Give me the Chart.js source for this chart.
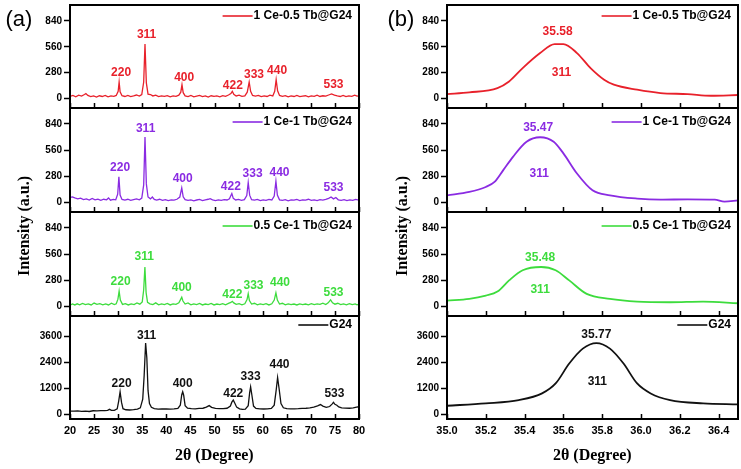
<!DOCTYPE html>
<html>
<head>
<meta charset="utf-8">
<script src="https://cdn.jsdelivr.net/npm/chart.js@4.4.0/dist/chart.umd.min.js"></script>
<style>
  body { margin: 0; width: 741px; height: 469px; overflow: hidden; position: relative; background: #fff; font-family: 'Liberation Sans', Arial, sans-serif; }
  canvas { position: absolute; }
  .txt { position: absolute; white-space: nowrap; color: #000; }
  .axt { font-family: 'Liberation Serif', 'Times New Roman', serif; font-weight: bold; font-size: 16px; }
  .tag { font-size: 22px; }
</style>
</head>
<body>
<script>
// ---- data: sample names, ticks ----
const sampleNames = ['1 Ce-0.5 Tb@G24', '1 Ce-1 Tb@G24', '0.5 Ce-1 Tb@G24', 'G24'];
const hklTags = ['220', '311', '400', '422', '333', '440', '533'];
const wideTicks = [20, 25, 30, 35, 40, 45, 50, 55, 60, 65, 70, 75, 80];
const zoomTicks = [35.0, 35.2, 35.4, 35.6, 35.8, 36.0, 36.2, 36.4];
const smallYTicks = [0, 280, 560, 840];
const g24YTicks = [0, 1200, 2400, 3600];

// ---- (a) full patterns, 2theta 20-80 ----
const wideThetaA = [20.0,20.6,21.2,21.8,22.4,23.0,23.3,23.7,24.3,24.9,25.5,26.1,26.7,27.3,27.9,28.5,29.1,29.6,30.0,30.2,30.4,30.8,31.4,32.0,32.6,33.2,33.8,34.4,34.9,35.3,35.57,35.85,36.2,36.7,37.2,37.8,38.4,39.0,39.6,40.2,40.8,41.4,42.0,42.6,43.0,43.25,43.5,43.9,44.5,45.1,45.7,46.3,46.9,47.5,48.1,48.7,49.3,49.9,50.5,51.1,51.7,52.3,52.9,53.4,53.7,54.0,54.5,55.1,55.7,56.3,56.8,57.2,57.5,57.9,58.5,59.1,59.7,60.3,60.9,61.5,62.1,62.5,62.8,63.1,63.5,64.1,64.7,65.3,65.9,66.5,67.1,67.7,68.3,68.9,69.5,70.1,70.7,71.3,71.9,72.5,73.1,73.7,74.3,74.9,75.5,76.1,76.7,77.3,77.9,78.5,79.1,79.6,80.0];
const wideIntA = [25,35,20,38,28,45,55,35,22,30,18,32,24,36,20,30,26,35,80,180,75,32,24,35,22,30,40,28,45,180,590,170,50,45,30,38,22,30,25,34,20,30,26,38,70,150,65,30,22,35,20,28,36,22,30,18,32,25,30,20,34,25,40,55,80,48,30,38,25,30,70,180,80,35,28,36,22,30,24,38,30,80,205,85,35,26,34,20,30,24,35,22,28,32,20,30,26,38,24,32,28,40,52,38,30,24,36,22,30,26,38,28,30];

const wideThetaB = [20.0,20.5,21.0,21.6,22.2,22.8,23.4,24.0,24.6,25.2,25.8,26.4,27.0,27.6,28.0,28.4,29.0,29.5,29.9,30.15,30.4,30.8,31.4,32.0,32.6,33.2,33.8,34.4,34.9,35.3,35.57,35.85,36.2,36.7,37.1,37.5,38.0,38.6,39.2,39.8,40.4,41.0,41.6,42.2,42.8,43.2,43.5,43.9,44.5,45.1,45.7,46.3,46.9,47.5,48.1,48.7,49.1,49.6,50.2,50.8,51.4,52.0,52.6,53.1,53.6,53.9,54.4,55.0,55.6,56.2,56.7,57.0,57.3,57.7,58.3,58.9,59.5,60.1,60.7,61.3,61.9,62.4,62.75,63.05,63.5,64.1,64.7,65.3,65.9,66.5,67.1,67.7,68.3,68.9,69.5,70.1,70.7,71.3,71.9,72.5,73.1,73.7,74.2,74.7,75.2,75.7,76.3,76.9,77.5,78.1,78.7,79.3,80.0];
const wideIntB = [55,62,50,40,48,32,40,28,45,30,38,25,36,30,50,26,34,30,90,275,80,34,26,36,24,32,40,30,48,190,700,200,60,40,60,35,28,36,24,32,22,30,26,36,60,157,62,32,24,30,20,28,34,22,30,36,42,30,22,30,24,32,28,40,97,45,28,34,24,32,75,215,80,32,26,34,22,30,24,34,28,70,228,80,30,24,32,20,30,26,34,22,30,26,36,24,30,22,32,26,34,45,60,40,55,30,24,32,22,30,24,34,26];

const wideThetaC = [20.0,20.5,21.0,21.5,22.0,22.6,23.2,23.8,24.4,25.0,25.6,26.2,26.8,27.4,28.0,28.6,29.2,29.6,29.95,30.2,30.45,30.9,31.5,32.1,32.7,33.3,33.9,34.5,35.0,35.3,35.55,35.8,36.1,36.6,37.2,37.8,38.4,39.0,39.6,40.2,40.8,41.4,42.0,42.6,42.95,43.2,43.45,43.9,44.5,45.1,45.7,46.3,46.9,47.5,48.1,48.7,49.3,49.9,50.5,51.1,51.7,52.3,52.9,53.4,53.7,54.0,54.5,55.1,55.7,56.3,56.75,57.0,57.25,57.7,58.3,58.9,59.5,60.1,60.7,61.3,61.9,62.4,62.75,63.05,63.5,64.1,64.7,65.3,65.9,66.5,67.1,67.7,68.3,68.9,69.5,70.1,70.7,71.3,71.9,72.5,73.1,73.6,74.1,74.5,75.0,75.6,76.2,76.8,77.4,78.0,78.6,79.2,79.6,80.0];
const wideIntC = [15,28,18,30,20,34,22,30,18,38,24,32,20,30,18,36,22,30,80,165,70,24,32,18,30,22,40,26,50,180,423,150,45,30,22,40,20,30,22,34,18,30,24,40,75,100,60,28,40,20,30,22,34,18,28,22,34,18,28,22,32,20,34,45,57,40,24,32,20,30,75,137,65,28,36,20,30,22,32,18,30,70,147,70,28,36,20,30,22,28,18,30,22,28,20,32,22,30,24,36,22,40,72,40,26,36,22,30,20,32,22,30,20,28];

const wideThetaD = [20.0,20.8,21.6,22.4,23.2,24.0,24.8,25.6,26.4,27.2,27.8,28.2,28.6,29.2,29.8,30.1,30.4,30.7,31.0,31.6,32.4,33.2,34.0,34.6,35.1,35.4,35.7,35.95,36.2,36.5,36.9,37.5,38.3,39.1,40.0,40.8,41.6,42.4,42.9,43.2,43.4,43.6,43.9,44.4,45.2,46.0,46.8,47.6,48.3,48.9,49.4,50.2,51.0,51.8,52.6,53.3,53.6,53.9,54.2,54.6,55.2,55.8,56.4,57.0,57.3,57.5,57.75,58.1,58.6,59.4,60.2,61.0,61.8,62.4,62.8,63.1,63.4,63.8,64.3,65.0,65.8,66.6,67.4,68.2,69.0,69.8,70.6,71.4,72.0,72.5,73.2,73.9,74.4,74.7,75.0,75.4,75.8,76.4,77.2,78.0,78.8,79.5,80.0];
const wideIntD = [150,145,155,140,150,130,165,160,170,175,185,230,180,185,250,600,1035,550,260,210,200,215,240,300,700,1800,3280,2600,1100,500,320,260,240,250,245,240,250,270,420,900,1035,880,400,280,260,255,270,280,330,400,320,270,260,265,280,380,560,655,520,330,250,230,240,400,1000,1265,900,380,270,250,245,250,270,420,1100,1695,1200,500,300,260,250,255,260,270,280,300,330,390,450,380,320,360,470,550,460,420,340,300,290,280,300,330,350];

// ---- (b) (311) region, 2theta 35.0-36.5 ----
const zoomThetaA = [35.0,35.115,35.26,35.32,35.39,35.48,35.555,35.60,35.67,35.74,35.81,35.86,35.98,36.10,36.24,36.36,36.50];
const zoomIntA = [50,68,115,186,330,492,589,589,492,330,205,151,97,61,50,32,40];
const zoomThetaB = [35.0,35.115,35.2,35.245,35.29,35.34,35.41,35.48,35.55,35.60,35.67,35.75,35.84,35.98,36.10,36.24,36.38,36.43,36.50];
const zoomIntB = [78,114,167,221,347,489,650,698,650,526,311,132,78,43,32,35,32,11,25];
const zoomThetaC = [35.0,35.115,35.2,35.26,35.32,35.39,35.485,35.56,35.63,35.72,35.84,35.98,36.15,36.32,36.50];
const zoomIntC = [65,83,118,161,280,388,423,388,280,136,83,54,47,54,36];
const zoomThetaD = [35.0,35.2,35.37,35.49,35.56,35.63,35.70,35.77,35.84,35.91,35.98,36.05,36.15,36.32,36.50];
const zoomIntD = [395,504,655,962,1420,2336,3023,3280,3023,2336,1420,962,655,504,458];

// ---- annotation anchors (data coordinates) ----
const hklThetaA = [30.6, 35.9, 43.7, 53.8, 58.2, 63.0, 74.7];
const hklIntA = [283, 689, 229, 143, 258, 301, 151];
const hklThetaB = [30.4, 35.7, 43.4, 53.4, 57.9, 63.5, 74.7];
const hklIntB = [372, 794, 258, 168, 312, 319, 157];
const hklThetaC = [30.5, 35.4, 43.2, 53.7, 58.1, 63.6, 74.7];
const hklIntC = [262, 538, 201, 129, 226, 251, 154];
const hklThetaD = [30.7, 35.9, 43.4, 53.9, 57.5, 63.5, 74.9];
const hklIntD = [1420, 3630, 1388, 962, 1722, 2304, 930];
const peakTexts = ['35.58', '35.47', '35.48', '35.77'];
const peakTextTheta = [35.57, 35.47, 35.48, 35.77];
const peakTextInt = [718, 800, 524, 3678];
const peakHklTheta = [35.59, 35.475, 35.48, 35.775];
const peakHklInt = [283, 311, 183, 1493];

// ---- layout / style ----
const colors = ['#e8212b', '#8a2be2', '#3ddc3d', '#111111'];
const panelTops = [5, 108, 212, 316];
const panelBottoms = [108, 212, 316, 419];
const legendDy = [11, 14, 14, 9];
const cols = [
    { left: 0, plotLeft: 70, plotRight: 359, min: 20, max: 80, ticks: wideTicks, width: 1.3, tension: 0 },
    { left: 370, plotLeft: 447, plotRight: 738, min: 35.0, max: 36.5, ticks: zoomTicks, width: 1.8, tension: 0.4 }
];
const wideSets = [[wideThetaA, wideIntA], [wideThetaB, wideIntB], [wideThetaC, wideIntC], [wideThetaD, wideIntD]];
const zoomSets = [[zoomThetaA, zoomIntA], [zoomThetaB, zoomIntB], [zoomThetaC, zoomIntC], [zoomThetaD, zoomIntD]];
const hklSets = [[hklThetaA, hklIntA], [hklThetaB, hklIntB], [hklThetaC, hklIntC], [hklThetaD, hklIntD]];

const BOLD = 'bold 12px "Liberation Sans", Arial, sans-serif';

// frame + inward x ticks, drawn after the data line
function framePlugin(colIdx) {
    return {
        id: 'panelFrame',
        afterDatasetsDraw(chart) {
            const ctx = chart.ctx;
            const a = chart.chartArea;
            const sx = chart.scales.x;
            ctx.save();
            ctx.strokeStyle = '#000000';
            ctx.lineWidth = 1.5;
            ctx.beginPath();
            cols[colIdx].ticks.forEach(t => {
                const px = Math.round(sx.getPixelForValue(t)) + 0.5;
                ctx.moveTo(px, a.bottom);
                ctx.lineTo(px, a.bottom - 5);
            });
            ctx.stroke();
            ctx.lineWidth = 2;
            ctx.beginPath();
            ctx.moveTo(a.left, a.top);
            ctx.lineTo(a.right, a.top);
            ctx.lineTo(a.right, a.bottom);
            ctx.lineTo(a.left, a.bottom);
            ctx.closePath();
            ctx.stroke();
            ctx.restore();
        }
    };
}

// legend entry + reflection labels
function textPlugin(colIdx, row) {
    return {
        id: 'panelText',
        afterDraw(chart) {
            const ctx = chart.ctx;
            const a = chart.chartArea;
            const sx = chart.scales.x, sy = chart.scales.y;
            const color = colors[row];
            ctx.save();
            ctx.font = BOLD;
            ctx.textBaseline = 'middle';
            ctx.textAlign = 'right';
            ctx.fillStyle = '#000';
            const ly = a.top + legendDy[row];
            const tx = a.right - 7;
            const tw = ctx.measureText(sampleNames[row]).width;
            ctx.fillText(sampleNames[row], tx, ly);
            ctx.strokeStyle = color;
            ctx.lineWidth = 1.6;
            ctx.beginPath();
            ctx.moveTo(tx - tw - 31, ly);
            ctx.lineTo(tx - tw - 1, ly);
            ctx.stroke();

            ctx.textAlign = 'center';
            ctx.fillStyle = color;
            if (colIdx === 0) {
                const [ht, hi] = hklSets[row];
                hklTags.forEach((tag, i) => {
                    ctx.fillText(tag, sx.getPixelForValue(ht[i]), sy.getPixelForValue(hi[i]));
                });
            } else {
                ctx.fillText(peakTexts[row], sx.getPixelForValue(peakTextTheta[row]), sy.getPixelForValue(peakTextInt[row]));
                ctx.fillText('311', sx.getPixelForValue(peakHklTheta[row]), sy.getPixelForValue(peakHklInt[row]));
            }
            ctx.restore();
        }
    };
}

function makePanel(colIdx, row) {
    const c = cols[colIdx];
    const isBottom = row === 3;
    const top = panelTops[row], bottom = panelBottoms[row];
    const canvas = document.createElement('canvas');
    canvas.width = c.plotRight + 6 - c.left;
    canvas.height = 6 + (bottom - top) + (isBottom ? 26 : 6);
    canvas.style.left = c.left + 'px';
    canvas.style.top = (top - 6) + 'px';
    document.body.appendChild(canvas);

    const [xs, ys] = (colIdx === 0 ? wideSets : zoomSets)[row];
    const yTicks = isBottom ? g24YTicks : smallYTicks;

    new Chart(canvas.getContext('2d'), {
        type: 'line',
        data: {
            datasets: [{
                data: xs.map((t, i) => ({ x: t, y: ys[i] })),
                borderColor: colors[row],
                borderWidth: c.width,
                pointRadius: 0,
                tension: c.tension,
                cubicInterpolationMode: c.tension ? 'monotone' : 'default',
                fill: false
            }]
        },
        options: {
            responsive: false,
            animation: false,
            devicePixelRatio: 1,
            layout: { padding: { top: 6, bottom: isBottom ? 0 : 6, left: 0, right: 6 } },
            plugins: { legend: { display: false }, tooltip: { enabled: false } },
            scales: {
                x: {
                    type: 'linear',
                    min: c.min,
                    max: c.max,
                    display: isBottom,
                    grid: { display: false, drawTicks: false },
                    border: { display: false },
                    ticks: {
                        color: '#000',
                        padding: 5,
                        maxRotation: 0,
                        font: { family: '"Liberation Sans", Arial, sans-serif', size: 11, weight: 'bold' },
                        callback: v => colIdx === 0 ? String(v) : Number(v).toFixed(1)
                    },
                    afterBuildTicks: s => { s.ticks = c.ticks.map(v => ({ value: v })); },
                    afterFit: s => {
                        if (isBottom) s.height = 26;
                        s.paddingLeft = 0; s.paddingRight = 0;
                    }
                },
                y: {
                    min: isBottom ? -215 : -100,
                    max: isBottom ? 4525 : 1010,
                    grid: { display: true, drawOnChartArea: false, drawTicks: true, tickLength: 6, tickColor: '#000', tickWidth: 1.5 },
                    border: { display: false },
                    ticks: {
                        color: '#000',
                        padding: 2,
                        font: { family: '"Liberation Sans", Arial, sans-serif', size: 10, weight: 'bold' },
                        callback: v => String(v)
                    },
                    afterBuildTicks: s => { s.ticks = yTicks.map(v => ({ value: v })); },
                    afterFit: s => { s.width = c.plotLeft - c.left; s.paddingTop = 0; s.paddingBottom = 0; }
                }
            }
        },
        plugins: [framePlugin(colIdx), textPlugin(colIdx, row)]
    });
}

for (let col = 0; col < 2; col++) {
    for (let row = 0; row < 4; row++) makePanel(col, row);
}

// axis titles and panel tags
function addText(cls, text, cx, cy, rotate) {
    const d = document.createElement('div');
    d.className = 'txt ' + cls;
    d.textContent = text;
    document.body.appendChild(d);
    const w = d.offsetWidth, h = d.offsetHeight;
    d.style.left = (cx - w / 2) + 'px';
    d.style.top = (cy - h / 2) + 'px';
    if (rotate) d.style.transform = 'rotate(-90deg)';
}
addText('axt', '2θ (Degree)', 214.5, 455);
addText('axt', '2θ (Degree)', 592.5, 455);
addText('axt', 'Intensity (a.u.)', 24, 226, true);
addText('axt', 'Intensity (a.u.)', 401.5, 226, true);
addText('tag', '(a)', 19, 19);
addText('tag', '(b)', 401, 19);
</script>
</body>
</html>
